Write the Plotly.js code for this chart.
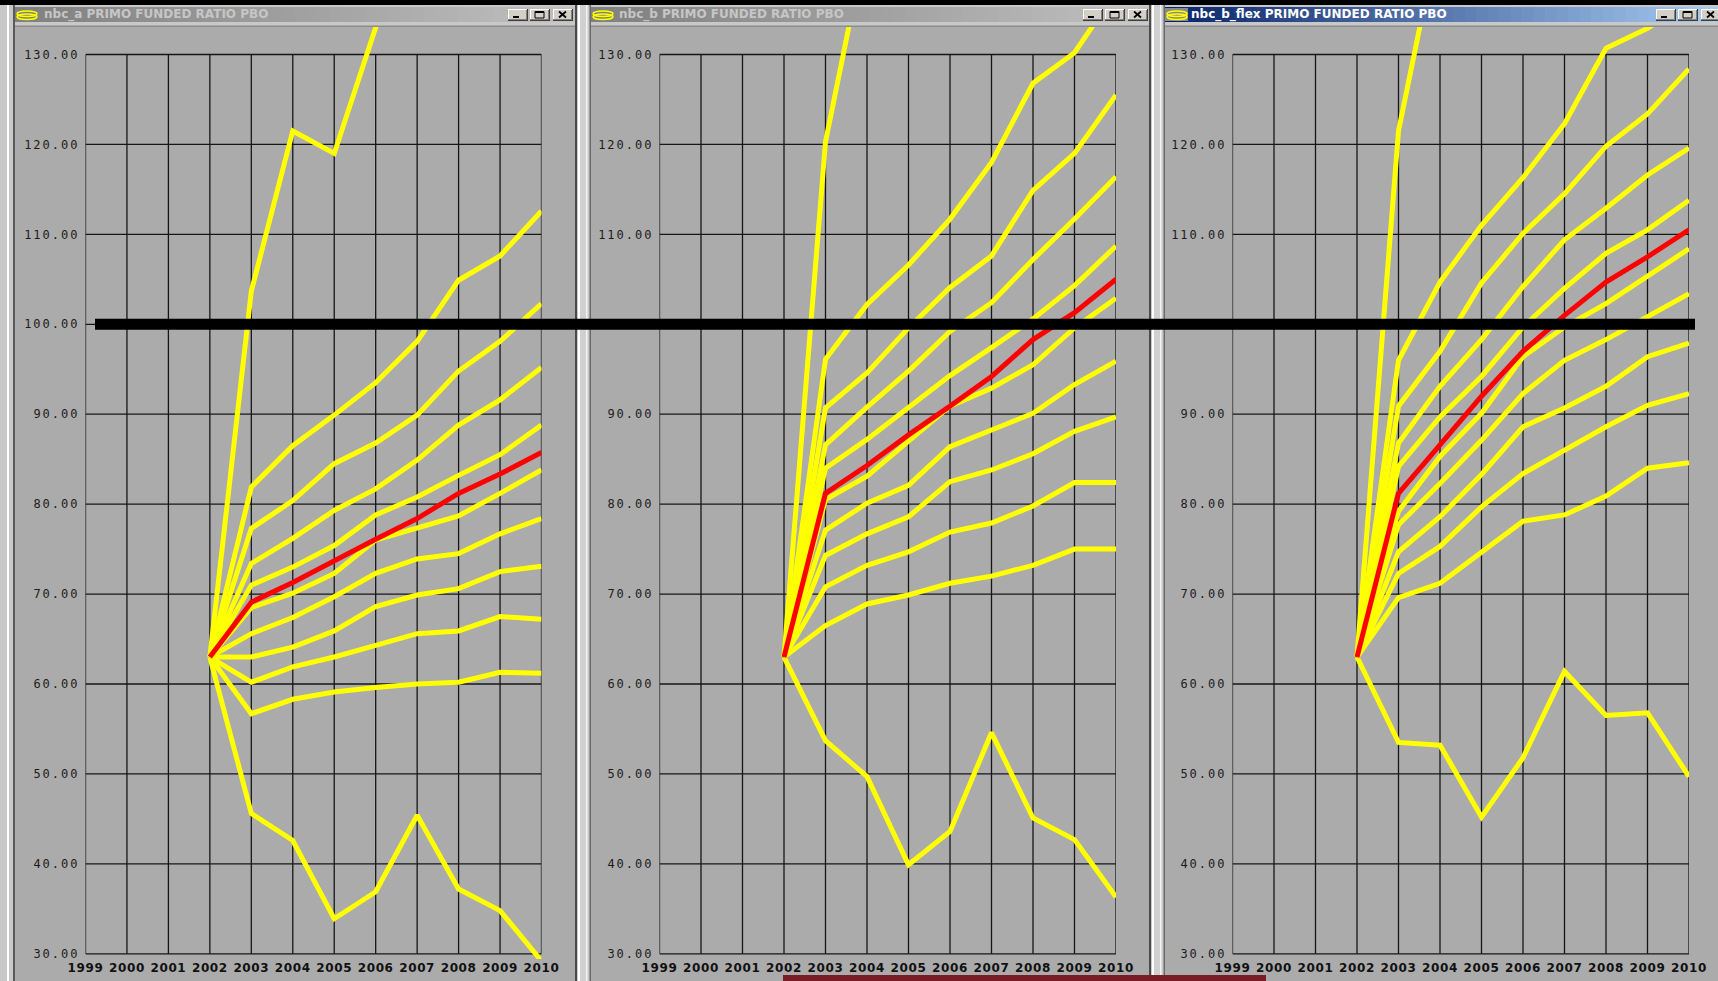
<!DOCTYPE html>
<html>
<head>
<meta charset="utf-8">
<script src="https://cdn.plot.ly/plotly-3.0.1.min.js"></script>
<style>
  html, body { margin: 0; padding: 0; overflow: hidden; background: #c8c8c8; }
  #chart { width: 1718px; height: 981px; }
  .yaxislayer-above text { letter-spacing: 2px; }
  .xaxislayer-above text { letter-spacing: 0.6px; }
</style>
</head>
<body>
<div id="chart"></div>
<script>
// ---- data -------------------------------------------------------------
const scenarioYears = [2002, 2003, 2004, 2005, 2006, 2007, 2008, 2009, 2010];
const gridYears = [1999, 2000, 2001, 2002, 2003, 2004, 2005, 2006, 2007, 2008, 2009, 2010];
const ratioTicks = [30, 40, 50, 60, 70, 80, 90, 100, 110, 120, 130];
const fullFundingLevel = 100;
const windowTitles = ['nbc_a PRIMO FUNDED RATIO PBO', 'nbc_b PRIMO FUNDED RATIO PBO', 'nbc_b_flex PRIMO FUNDED RATIO PBO'];

// funded ratio (%) per scenario path, 2002..2010
const nbcA_scenarios = [
  [63, 103.7, 121.5, 119.0, 133.0, 145, 150, 156, 165],
  [63, 81.9, 86.5, 89.9, 93.5, 98.1, 104.9, 107.6, 112.6],
  [63, 77.3, 80.4, 84.5, 86.8, 89.9, 94.8, 98.1, 102.3],
  [63, 73.4, 76.2, 79.3, 81.7, 84.9, 88.8, 91.6, 95.2],
  [63, 71.0, 73.0, 75.4, 78.8, 80.8, 83.2, 85.5, 88.8],
  [63, 68.5, 70.1, 72.3, 76.0, 77.3, 78.7, 81.2, 83.8],
  [63, 65.6, 67.4, 69.7, 72.3, 73.9, 74.5, 76.7, 78.4],
  [63, 63.0, 64.1, 65.9, 68.6, 69.9, 70.6, 72.5, 73.1],
  [63, 60.2, 61.9, 63.0, 64.3, 65.6, 65.9, 67.5, 67.2],
  [63, 56.7, 58.3, 59.1, 59.6, 60.0, 60.2, 61.3, 61.2],
  [63, 45.6, 42.6, 33.9, 36.9, 45.4, 37.2, 34.8, 29.2]
];
const nbcA_median = [63, 69.1, 71.3, 73.75, 76.1, 78.4, 81.2, 83.35, 85.76];

const nbcB_scenarios = [
  [63, 120.3, 143, 150, 156, 161, 168, 172, 178],
  [63, 96.1, 102.2, 106.6, 111.7, 118.0, 126.8, 130.2, 137],
  [63, 90.7, 94.6, 99.6, 104.1, 107.6, 114.9, 119.0, 125.5],
  [63, 86.6, 90.8, 94.8, 99.2, 102.4, 107.2, 111.7, 116.4],
  [63, 84.0, 87.2, 90.8, 94.3, 97.4, 100.6, 104.3, 108.7],
  [63, 80.5, 83.1, 87.0, 90.9, 92.9, 95.5, 99.6, 102.9],
  [63, 77.1, 80.1, 82.1, 86.4, 88.3, 90.1, 93.3, 95.9],
  [63, 74.3, 76.7, 78.6, 82.5, 83.8, 85.6, 88.1, 89.7],
  [63, 70.8, 73.2, 74.7, 76.9, 77.9, 79.8, 82.4, 82.4],
  [63, 66.5, 68.9, 69.9, 71.2, 72.0, 73.2, 75.0, 75.0],
  [63, 53.7, 49.7, 39.9, 43.6, 54.6, 45.1, 42.7, 36.3]
];
const nbcB_median = [63, 81.2, 84.3, 87.7, 90.9, 94.2, 98.3, 101.3, 105.0];

const nbcBFlex_scenarios = [
  [63, 121.5, 144, 152, 160, 166, 172, 178, 184],
  [63, 96.0, 104.7, 111.0, 116.3, 122.3, 130.7, 132.9, 136.0],
  [63, 90.9, 97.0, 104.6, 110.1, 114.5, 119.8, 123.4, 128.4],
  [63, 86.8, 93.1, 98.3, 104.2, 109.4, 112.9, 116.6, 119.6],
  [63, 84.2, 89.7, 94.2, 99.7, 104.0, 107.9, 110.5, 113.8],
  [63, 79.2, 85.3, 90.1, 96.4, 99.7, 102.3, 105.3, 108.4],
  [63, 77.7, 82.3, 87.1, 92.3, 96.0, 98.3, 100.9, 103.4],
  [63, 74.7, 78.6, 83.3, 88.6, 90.7, 93.1, 96.4, 97.9],
  [63, 72.3, 75.3, 79.7, 83.4, 86.0, 88.6, 91.0, 92.3],
  [63, 69.6, 71.2, 74.6, 78.1, 78.8, 80.9, 84.0, 84.6],
  [63, 53.5, 53.2, 45.2, 51.8, 61.4, 56.5, 56.8, 49.7]
];
const nbcBFlex_median = [63, 81.2, 86.6, 92.0, 97.0, 101.0, 104.7, 107.5, 110.5];

// ---- page geometry (pixels, origin top-left) ---------------------------
const W = 1718, H = 981;
const y130px = 54.5, y30px = 953.8;          // where the 130 and 30 grid lines sit
const k = (y30px - y130px) / 100;            // pixels per ratio point
const plotTop = 27, plotBot = 959;
const yMax = 130 + (y130px - plotTop) / k;
const yMin = 30 - (plotBot - y30px) / k;

const panels = [
  { scen: nbcA_scenarios, med: nbcA_median, title: windowTitles[0], L: 85.5, R: 541.5,
    win: [15, 575], active: false, textX: 42, iconX: 17, btnX: [508, 530, 553] },
  { scen: nbcB_scenarios, med: nbcB_median, title: windowTitles[1], L: 659.5, R: 1116,
    win: [591, 1149], active: false, textX: 617, iconX: 593, btnX: [1083, 1105, 1128] },
  { scen: nbcBFlex_scenarios, med: nbcBFlex_median, title: windowTitles[2], L: 1232.5, R: 1689,
    win: [1165, 1718], active: true, textX: 1189, iconX: 1167, btnX: [1656, 1678, 1701] }
];

// ---- shape helpers in pixel space ---------------------------------------
const fx = v => v / W;
const fy = v => 1 - v / H;
function rect(x0, y0, x1, y1, fill, extra) {
  return Object.assign({ type: 'rect', xref: 'paper', yref: 'paper', x0: fx(x0), x1: fx(x1),
    y0: fy(y1), y1: fy(y0), fillcolor: fill, line: { width: 0 }, layer: 'below' }, extra || {});
}
function seg(x0, y0, x1, y1, color, w, layer) {
  return { type: 'line', xref: 'paper', yref: 'paper', x0: fx(x0), x1: fx(x1), y0: fy(y0), y1: fy(y1),
    line: { color: color, width: w }, layer: layer || 'above' };
}
function hex(c) { return [1, 3, 5].map(i => parseInt(c.substr(i, 2), 16)); }
function mix(a, b, t) {
  const A = hex(a), B = hex(b);
  return 'rgb(' + A.map((v, i) => Math.round(v + (B[i] - v) * t)).join(',') + ')';
}

const shapes = [];
const annotations = [];

// desktop strip and window frames
shapes.push(rect(0, 0, W, 5, '#000000'));
shapes.push(rect(7, 5, 9, H, '#ffffff'));
shapes.push(rect(13, 5, 15, H, '#5a5a5a'));
[[575, 591], [1149, 1165]].forEach(([a, b]) => {
  shapes.push(rect(a, 5, a + 2, H, '#4a4a4a'));
  shapes.push(rect(a + 3, 5, a + 5, H, '#ffffff'));
  shapes.push(rect(a + 5, 5, b - 5, H, '#d0d0d0'));
  shapes.push(rect(b - 5, 5, b - 3.5, H, '#f4f4f4'));
  shapes.push(rect(b - 1.5, 5, b, H, '#6a6a6a'));
});

panels.forEach((p, i) => {
  const [a, b] = p.win;
  // client area
  shapes.push(rect(a, 27, b, H, '#ababab'));
  shapes.push(rect(a, 25.5, b, 27, '#8c8c8c'));
  // title bar gradient
  const c0 = p.active ? '#0a246a' : '#808080';
  const c1 = p.active ? '#a6caf0' : '#c0c0c0';
  const n = 48;
  for (let s = 0; s < n; s++) {
    const xa = a + (b - a) * s / n, xb = a + (b - a) * (s + 1) / n + 0.6;
    shapes.push(rect(xa, 7, Math.min(xb, b), 22, mix(c0, c1, s / (n - 1))));
  }
  // window icon
  const ix = p.iconX;
  if (p.active) shapes.push(rect(ix - 2, 8, ix + 21, 21, '#8a8a8a'));
  shapes.push({ type: 'circle', xref: 'paper', yref: 'paper', x0: fx(ix), x1: fx(ix + 20),
    y0: fy(16.5), y1: fy(11), line: { color: '#ffff00', width: 1.5 }, layer: 'above' });
  shapes.push({ type: 'circle', xref: 'paper', yref: 'paper', x0: fx(ix), x1: fx(ix + 20),
    y0: fy(19.5), y1: fy(14), line: { color: '#ffff00', width: 1.5 }, layer: 'above' });
  // title text
  annotations.push({ xref: 'paper', yref: 'paper', x: fx(p.textX), y: fy(14.8), xanchor: 'left', yanchor: 'middle',
    showarrow: false, text: p.title,
    font: { family: 'DejaVu Sans', size: 12, weight: 700, color: p.active ? '#ffffff' : '#c6c6c6' } });
  // caption buttons: minimise, maximise, close
  p.btnX.forEach((bx, j) => {
    const bw = 20, by0 = 9, by1 = 21;
    shapes.push(rect(bx, by0, bx + bw, by1, '#d4d0c8', { layer: 'above' }));
    shapes.push(seg(bx, by0 + 0.5, bx + bw, by0 + 0.5, '#ffffff', 1));
    shapes.push(seg(bx + 0.5, by0, bx + 0.5, by1, '#ffffff', 1));
    shapes.push(seg(bx, by1 - 0.5, bx + bw, by1 - 0.5, '#404040', 1));
    shapes.push(seg(bx + bw - 0.5, by0, bx + bw - 0.5, by1, '#404040', 1));
    shapes.push(seg(bx, by1 - 1.5, bx + bw - 1, by1 - 1.5, '#808080', 1));
    shapes.push(seg(bx + bw - 1.5, by0 + 1, bx + bw - 1.5, by1 - 1, '#808080', 1));
    const cx = bx + bw / 2;
    if (j === 0) {
      shapes.push(seg(cx - 5, by1 - 4, cx + 1, by1 - 4, '#000000', 2));
    } else if (j === 1) {
      shapes.push({ type: 'rect', xref: 'paper', yref: 'paper', x0: fx(cx - 5), x1: fx(cx + 4),
        y0: fy(by1 - 3), y1: fy(by0 + 2.5), line: { color: '#000000', width: 1 }, layer: 'above' });
      shapes.push(seg(cx - 5, by0 + 3, cx + 4, by0 + 3, '#000000', 2));
    } else {
      shapes.push(seg(cx - 4, by0 + 2.5, cx + 3, by1 - 3.5, '#000000', 1.8));
      shapes.push(seg(cx + 3, by0 + 2.5, cx - 4, by1 - 3.5, '#000000', 1.8));
    }
  });
});

// strip of another window peeking in along the bottom edge
shapes.push(rect(783, 975, 1266, H, '#7a1c25'));

// ---- traces, axes and grid --------------------------------------------
const traces = [];
const layout = {
  width: W, height: H,
  margin: { l: 0, r: 0, t: 0, b: 0 },
  paper_bgcolor: '#c8c8c8',
  plot_bgcolor: 'rgba(0,0,0,0)',
  showlegend: false,
  hovermode: false,
  shapes: shapes,
  annotations: annotations
};

panels.forEach((p, i) => {
  const sfx = i ? String(i + 1) : '';
  const xa = 'x' + sfx, ya = 'y' + sfx;

  p.scen.forEach(s => traces.push({ x: scenarioYears, y: s, xaxis: xa, yaxis: ya, type: 'scatter',
    mode: 'lines', line: { color: '#ffff00', width: 5 }, hoverinfo: 'skip' }));
  traces.push({ x: scenarioYears, y: p.med, xaxis: xa, yaxis: ya, type: 'scatter',
    mode: 'lines', line: { color: '#ff0000', width: 5 }, hoverinfo: 'skip' });

  layout['xaxis' + sfx] = {
    domain: [fx(p.L), fx(p.R)], range: [gridYears[0], gridYears[gridYears.length - 1]], anchor: ya,
    tickvals: gridYears, ticktext: gridYears.map(String),
    showgrid: false, zeroline: false, showline: false, ticks: '', fixedrange: true,
    tickfont: { family: 'DejaVu Sans', size: 12, weight: 700, color: '#111111' }
  };
  layout['yaxis' + sfx] = {
    domain: [fy(plotBot), fy(plotTop)], range: [yMin, yMax], anchor: xa,
    tickvals: ratioTicks, ticktext: ratioTicks.map(v => v.toFixed(2)),
    showgrid: false, zeroline: false, showline: false, ticks: '', fixedrange: true,
    ticklabelshift: -5.3, ticklabelstandoff: 5,
    tickfont: { family: 'DejaVu Sans Mono', size: 12, color: '#1c1c1c' }
  };

  // grid box: one line per year from 30 to 130, one line per tick across the years
  const yLo = ratioTicks[0], yHi = ratioTicks[ratioTicks.length - 1];
  const xLo = gridYears[0], xHi = gridYears[gridYears.length - 1];
  gridYears.forEach(yr => shapes.push({ type: 'line', xref: xa, yref: ya, x0: yr, x1: yr, y0: yLo, y1: yHi,
    line: { color: '#161616', width: 1.3 }, layer: 'below' }));
  ratioTicks.forEach(v => shapes.push({ type: 'line', xref: xa, yref: ya, x0: xLo, x1: xHi, y0: v, y1: v,
    line: { color: '#161616', width: 1.3 }, layer: 'below' }));
});

// full-funding marker across all three windows
shapes.push({ type: 'line', xref: 'paper', yref: 'y', x0: fx(95), x1: fx(1695),
  y0: fullFundingLevel, y1: fullFundingLevel, line: { color: '#000000', width: 11 }, layer: 'above' });

Plotly.newPlot('chart', traces, layout, { staticPlot: true, displayModeBar: false });
</script>
</body>
</html>
